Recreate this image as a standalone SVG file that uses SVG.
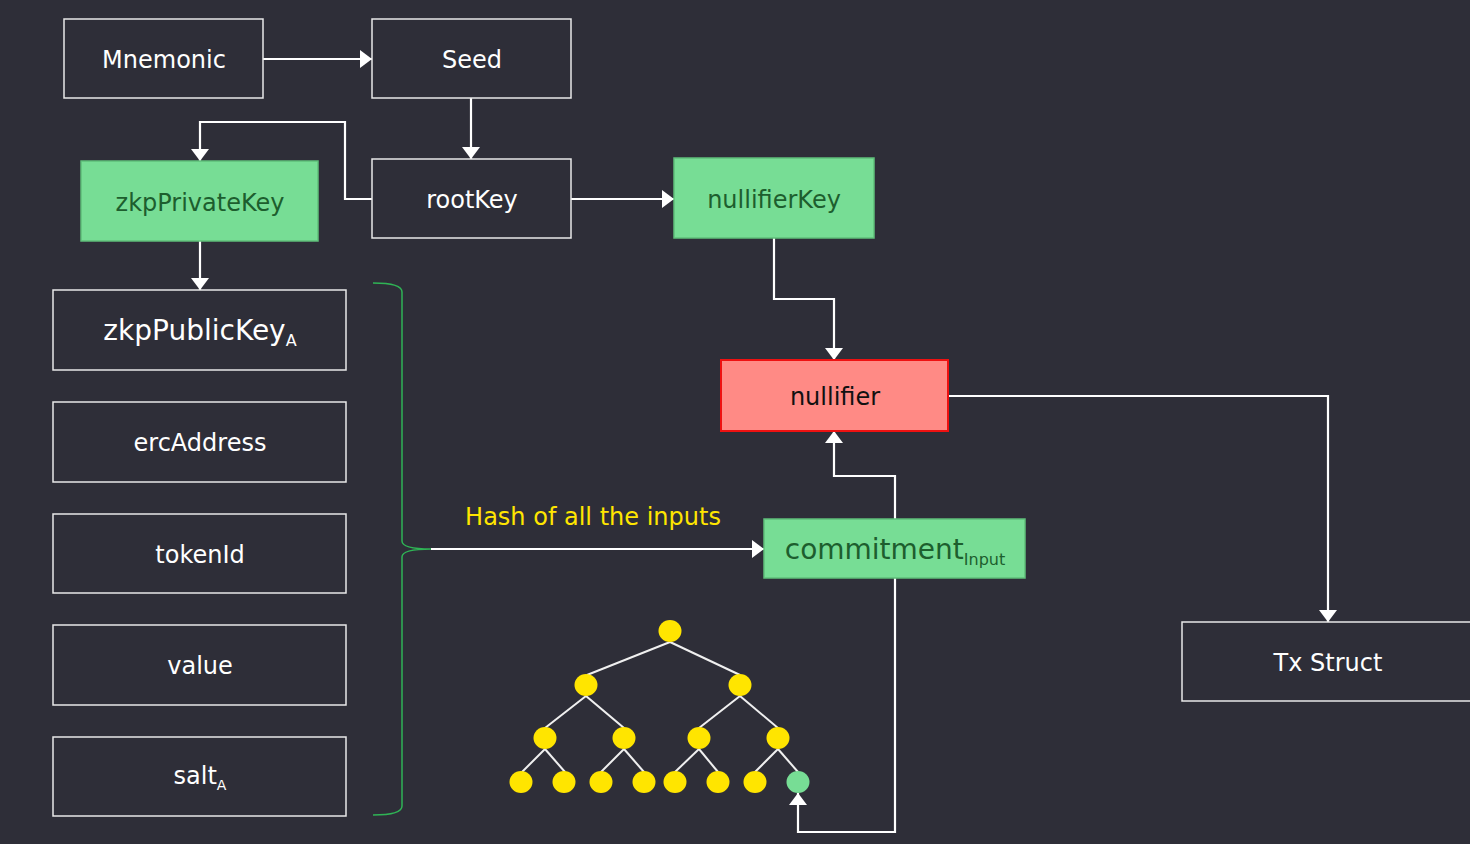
<svg xmlns="http://www.w3.org/2000/svg" width="1470" height="844" viewBox="0 0 1470 844">
<defs>
<marker id="arrL" viewBox="0 0 12 18" refX="12" refY="9" markerWidth="12" markerHeight="18" markerUnits="userSpaceOnUse" orient="auto">
<path d="M0,0 L12,9 L0,18 z" fill="#ffffff"/>
</marker>
</defs>
<style>
text{font-family:"DejaVu Sans","Liberation Sans",sans-serif;text-anchor:middle;dominant-baseline:central}
.box{fill:#2e2e38;stroke:#e8e8e8;stroke-width:1.5}
.gbox{fill:#77dd95;stroke:#5fbf7a;stroke-width:1.5}
.wt{fill:#ffffff;font-size:24px}
.gt{fill:#1d5e2e;font-size:24px}
.con{fill:none;stroke:#ffffff;stroke-width:2.2;marker-end:url(#arrL)}
.edge{stroke:#f0f0f0;stroke-width:2}
.leaf{fill:#ffe500}
</style>
<rect width="1470" height="844" fill="#2e2e38"/>

<g id="connectors">
<path class="con" d="M263,59 L372,59"/>
<path class="con" d="M471,98 L471,159"/>
<path class="con" d="M372,199 L345,199 L345,122 L200,122 L200,161"/>
<path class="con" d="M571,199 L674,199"/>
<path class="con" d="M200,241 L200,290"/>
<path class="con" d="M774,238 L774,299 L834,299 L834,360"/>
<path class="con" d="M895,519 L895,476 L834,476 L834,431"/>
<path class="con" d="M948,396 L1328,396 L1328,622"/>
<path class="con" d="M431,549 L764,549"/>
<path class="con" d="M895,578 L895,832 L798,832 L798,793"/>
</g>

<g id="brace">
<path d="M373,283 Q402,283 402,292 L402,541 Q402,549 431,549 Q402,549 402,557 L402,806 Q402,815 373,815" fill="none" stroke="#2fb355" stroke-width="1.5"/>
</g>

<g id="mnemonic"><rect class="box" x="64" y="19" width="199" height="79"/><text class="wt" x="164" y="60">Mnemonic</text></g>
<g id="seed"><rect class="box" x="372" y="19" width="199" height="79"/><text class="wt" x="472" y="60">Seed</text></g>
<g id="rootKey"><rect class="box" x="372" y="159" width="199" height="79"/><text class="wt" x="472" y="200">rootKey</text></g>
<g id="zkpPrivateKey"><rect class="gbox" x="81" y="161" width="237" height="80"/><text class="gt" x="200" y="203">zkpPrivateKey</text></g>
<g id="nullifierKey"><rect class="gbox" x="674" y="158" width="200" height="80"/><text class="gt" x="774" y="200">nullifierKey</text></g>
<g id="nullifier"><rect x="721" y="360" width="227" height="71" fill="#ff8a85" stroke="#ee1111" stroke-width="2"/><text x="835" y="397" font-size="24" fill="#111111">nullifier</text></g>
<g id="commitment"><rect class="gbox" x="764" y="519" width="261" height="59"/><text class="gt" x="895" y="549" style="font-size:28px">commitment<tspan style="font-size:16px" dy="10">Input</tspan></text></g>
<g id="txStruct"><rect class="box" x="1182" y="622" width="300" height="79"/><text class="wt" x="1328" y="663">Tx Struct</text></g>

<g id="zkpPublicKey"><rect class="box" x="53" y="290" width="293" height="80"/><text class="wt" x="200" y="330" style="font-size:28px">zkpPublicKey<tspan style="font-size:16px" dy="10">A</tspan></text></g>
<g id="ercAddress"><rect class="box" x="53" y="402" width="293" height="80"/><text class="wt" x="200" y="443">ercAddress</text></g>
<g id="tokenId"><rect class="box" x="53" y="514" width="293" height="79"/><text class="wt" x="200" y="555">tokenId</text></g>
<g id="value"><rect class="box" x="53" y="625" width="293" height="80"/><text class="wt" x="200" y="666">value</text></g>
<g id="salt"><rect class="box" x="53" y="737" width="293" height="79"/><text class="wt" x="200" y="776">salt<tspan style="font-size:14px" dy="9">A</tspan></text></g>

<g id="label"><text x="593" y="517" font-size="24" style="fill:#ffe500">Hash of all the inputs</text></g>

<g id="merkleTree">
<line class="edge" x1="670" y1="642" x2="587" y2="675"/>
<line class="edge" x1="670" y1="642" x2="740" y2="675"/>
<line class="edge" x1="586" y1="696" x2="545" y2="728"/>
<line class="edge" x1="586" y1="696" x2="624" y2="728"/>
<line class="edge" x1="740" y1="696" x2="699" y2="728"/>
<line class="edge" x1="740" y1="696" x2="778" y2="728"/>
<line class="edge" x1="545" y1="749" x2="522" y2="772"/>
<line class="edge" x1="545" y1="749" x2="565" y2="772"/>
<line class="edge" x1="624" y1="749" x2="601" y2="772"/>
<line class="edge" x1="624" y1="749" x2="644" y2="772"/>
<line class="edge" x1="699" y1="749" x2="675" y2="772"/>
<line class="edge" x1="699" y1="749" x2="718" y2="772"/>
<line class="edge" x1="778" y1="749" x2="755" y2="772"/>
<line class="edge" x1="778" y1="749" x2="798" y2="772"/>
<ellipse class="leaf" cx="670" cy="631" rx="11.5" ry="11"/>
<ellipse class="leaf" cx="586" cy="685" rx="11.5" ry="11"/>
<ellipse class="leaf" cx="740" cy="685" rx="11.5" ry="11"/>
<ellipse class="leaf" cx="545" cy="738" rx="11.5" ry="11"/>
<ellipse class="leaf" cx="624" cy="738" rx="11.5" ry="11"/>
<ellipse class="leaf" cx="699" cy="738" rx="11.5" ry="11"/>
<ellipse class="leaf" cx="778" cy="738" rx="11.5" ry="11"/>
<ellipse class="leaf" cx="521" cy="782" rx="11.5" ry="11"/>
<ellipse class="leaf" cx="564" cy="782" rx="11.5" ry="11"/>
<ellipse class="leaf" cx="601" cy="782" rx="11.5" ry="11"/>
<ellipse class="leaf" cx="644" cy="782" rx="11.5" ry="11"/>
<ellipse class="leaf" cx="675" cy="782" rx="11.5" ry="11"/>
<ellipse class="leaf" cx="718" cy="782" rx="11.5" ry="11"/>
<ellipse class="leaf" cx="755" cy="782" rx="11.5" ry="11"/>
<ellipse cx="798" cy="782" rx="11.5" ry="11" fill="#77dd95"/>
</g>
</svg>
